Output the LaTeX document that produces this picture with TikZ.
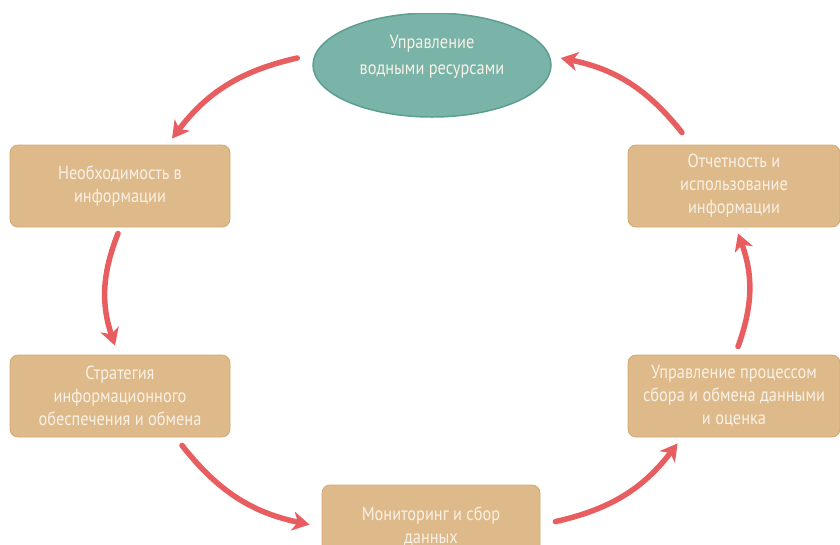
\documentclass[tikz,border=0pt]{standalone}
\usepackage{fontspec}
\setmainfont{PT Sans}[FakeStretch=0.86]
\usetikzlibrary{arrows.meta,calc,shapes.geometric}
\definecolor{tealfill}{HTML}{7AB3A8}
\definecolor{tealdraw}{HTML}{5C9F92}
\definecolor{tanfill}{HTML}{DEB98A}
\definecolor{tandraw}{HTML}{D3A870}
\definecolor{txtcol}{HTML}{F8F1E6}
\definecolor{arrowred}{HTML}{E85E60}
\tikzset{
  stagebox/.style={draw=tandraw, line width=0.8pt, fill=tanfill, rounded corners=8pt,
    minimum width=220pt, minimum height=82pt, inner sep=0pt,
    text=txtcol, align=center, font=\fontsize{19}{23}\selectfont},
  mainell/.style={ellipse, draw=tealdraw, line width=1.5pt, fill=tealfill,
    minimum width=238pt, minimum height=104pt, inner sep=0pt},
  cyc/.style={draw=arrowred, line width=5.5pt, line cap=round,
    -{Stealth[length=17pt,width=19pt,inset=5pt]}, bend right=20}
}
\begin{document}
\begin{tikzpicture}[x=1pt,y=-1pt]
\useasboundingbox (0,0) rectangle (840,544);
\begin{scope}
\clip (0,13) rectangle (840,544);
\node[mainell] (top) at (432,65) {};
\node[text=txtcol, align=center, font=\fontsize{19}{26}\selectfont] (toptxt) at (432,57) {Управление\\водными ресурсами};
\node[stagebox] (need) at (120,186) {Необходимость в\\информации};
\node[stagebox] (strat) at (120,396) {Стратегия\\информационного\\обеспечения и обмена};
\node[stagebox, minimum width=218pt] (mon) at (431,526) {Мониторинг и сбор\\данных};
\node[stagebox, minimum width=212pt] (proc) at (734,396) {Управление процессом\\сбора и обмена данными\\и оценка};
\node[stagebox, minimum width=212pt] (rep) at (734,186) {Отчетность и\\использование\\информации};
\end{scope}
\coordinate (a1s) at ($(top.west)+(-15,-7)$);
\coordinate (a1e) at ($(need.north)+(52,-6)$);
\coordinate (a2s) at ($(need.south)+(-2,6)$);
\coordinate (a2e) at ($(strat.north)+(-5,-9)$);
\coordinate (a3s) at ($(strat.south)+(62,8)$);
\coordinate (a3e) at ($(mon.north west)+(-12,40)$);
\coordinate (a4s) at ($(mon.north east)+(15,37)$);
\coordinate (a4e) at ($(proc.south west)+(50,6)$);
\coordinate (a5s) at ($(proc.north)+(4,-8)$);
\coordinate (a5e) at ($(rep.south)+(4,6)$);
\coordinate (a6s) at ($(rep.north)+(-52,-12)$);
\coordinate (a6e) at ($(top.east)+(9,-7)$);
\draw[cyc] (a1s) to (a1e);
\draw[cyc] (a2s) to (a2e);
\draw[cyc] (a3s) to (a3e);
\draw[cyc] (a4s) to (a4e);
\draw[cyc] (a5s) to (a5e);
\draw[cyc] (a6s) to (a6e);
\end{tikzpicture}
\end{document}
